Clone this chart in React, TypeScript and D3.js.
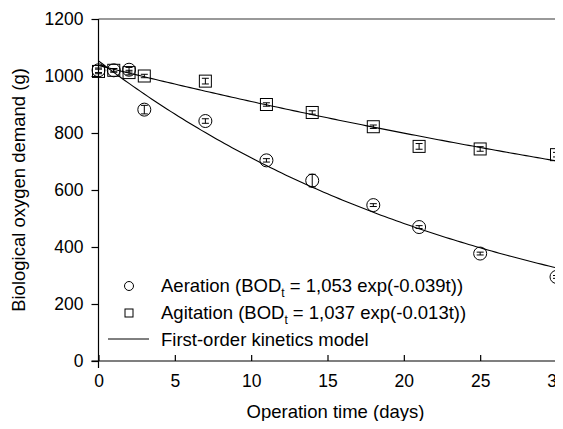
import React, { useEffect, useRef } from "react";
import * as d3 from "d3";

const days = [0, 1, 2, 3, 7, 11, 14, 18, 21, 25, 30];
const aeration = [1020, 1020, 1022, 882, 842, 704, 633, 547, 470, 377, 295];
const aerationErr = [8, 6, 8, 15, 8, 6, 22, 5, 5, 5, 5];
const agitation = [1016, 1020, 1012, 1000, 982, 900, 872, 822, 753, 744, 724];
const agitationErr = [8, 6, 8, 6, 10, 6, 6, 6, 10, 8, 8];
// fitted first-order model parameters (from legend)
const aerationModel = { a: 1053, k: 0.039 };
const agitationModel = { a: 1037, k: 0.013 };
const xTicks = [0, 5, 10, 15, 20, 25, 30];
const yTicks = [0, 200, 400, 600, 800, 1000, 1200];

const W = 563;
const H = 429;
const FONT = "Liberation Sans, Arial, sans-serif";

const App = () => {
  const ref = useRef<SVGSVGElement>(null);

  useEffect(() => {
    const svg = d3.select(ref.current);
    svg.selectAll("*").remove();

    const x = d3.scaleLinear().domain([0, 30]).range([98.5, 556.5]);
    const y = d3.scaleLinear().domain([0, 1200]).range([361, 19]);

    // top frame line
    svg.append("line")
      .attr("x1", x(0)).attr("x2", W).attr("y1", y(1200)).attr("y2", y(1200))
      .attr("stroke", "#777").attr("stroke-width", 1.5);

    const xAxis = svg.append("g")
      .attr("transform", `translate(0,${y(0)})`)
      .call(d3.axisBottom(x).tickValues(xTicks).tickFormat(d3.format("d")).tickSize(6).tickSizeOuter(0));
    xAxis.select(".domain").attr("d", `M${x(0) - 7},0H${W}`);
    xAxis.selectAll(".tick line").attr("y1", -6).attr("y2", 0);
    xAxis.selectAll("text").attr("y", 14).attr("dy", "0.71em");

    const yAxis = svg.append("g")
      .attr("transform", `translate(${x(0)},0)`)
      .call(d3.axisLeft(y).tickValues(yTicks).tickFormat(d3.format("d")).tickSize(7).tickSizeOuter(0));
    yAxis.select(".domain").attr("d", `M0,${y(1200)}V${y(0) + 7}`);
    yAxis.selectAll("text").attr("x", -15);

    svg.selectAll(".domain, .tick line").attr("stroke", "#000").attr("stroke-width", 1.2);
    svg.selectAll(".tick text")
      .attr("font-family", FONT).attr("font-size", 17.5).attr("fill", "#000");

    svg.append("text")
      .attr("x", (x(0) + x(30)) / 2 + 8).attr("y", 418)
      .attr("text-anchor", "middle").attr("font-family", FONT).attr("font-size", 18.5)
      .text("Operation time (days)");
    svg.append("text")
      .attr("transform", `translate(25,190) rotate(-90)`)
      .attr("text-anchor", "middle").attr("font-family", FONT).attr("font-size", 18.5)
      .text("Biological oxygen demand (g)");

    // model curves
    const tGrid = d3.range(0, 30.01, 0.25);
    const line = d3.line<number>().x(t => x(t));
    [aerationModel, agitationModel].forEach(m => {
      svg.append("path")
        .attr("d", line.y(t => y(m.a * Math.exp(-m.k * t)))(tGrid))
        .attr("fill", "none").attr("stroke", "#000").attr("stroke-width", 1.1);
    });

    const g = svg.append("g").attr("fill", "none").attr("stroke", "#000").attr("stroke-width", 1);

    const errBars = (vals: number[], errs: number[]) => {
      days.forEach((d, i) => {
        const cx = x(d);
        const y1 = y(vals[i] + errs[i]);
        const y2 = y(vals[i] - errs[i]);
        g.append("line").attr("x1", cx).attr("x2", cx).attr("y1", y1).attr("y2", y2);
        g.append("line").attr("x1", cx - 3.5).attr("x2", cx + 3.5).attr("y1", y1).attr("y2", y1);
        g.append("line").attr("x1", cx - 3.5).attr("x2", cx + 3.5).attr("y1", y2).attr("y2", y2);
      });
    };

    // agitation squares
    g.selectAll("rect.sq").data(agitation).enter().append("rect")
      .attr("class", "sq")
      .attr("x", (v, i) => x(days[i]) - 6).attr("y", v => y(v) - 6)
      .attr("width", 12).attr("height", 12);
    errBars(agitation, agitationErr);

    // aeration circles
    g.selectAll("circle.ci").data(aeration).enter().append("circle")
      .attr("class", "ci")
      .attr("cx", (v, i) => x(days[i])).attr("cy", v => y(v))
      .attr("r", 6.5);
    errBars(aeration, aerationErr);

    // legend
    const lg = svg.append("g").attr("font-family", FONT).attr("font-size", 18.5);
    lg.append("circle").attr("cx", 129).attr("cy", 286).attr("r", 4.5)
      .attr("fill", "none").attr("stroke", "#000");
    lg.append("rect").attr("x", 125).attr("y", 309).attr("width", 8).attr("height", 8)
      .attr("fill", "none").attr("stroke", "#000");
    lg.append("line").attr("x1", 108).attr("x2", 149).attr("y1", 339).attr("y2", 339)
      .attr("stroke", "#000");

    const entry = (yy: number, name: string, a: string, k: string) => {
      const t = lg.append("text").attr("x", 161).attr("y", yy);
      t.append("tspan").text(`${name} (BOD`);
      t.append("tspan").attr("font-size", 12).attr("dy", 5).text("t");
      t.append("tspan").attr("dy", -5).text(` = ${a} exp(-${k}t))`);
    };
    entry(292, "Aeration", "1,053", "0.039");
    entry(319, "Agitation", "1,037", "0.013");
    lg.append("text").attr("x", 161).attr("y", 346).text("First-order kinetics model");
  }, []);

  return <svg ref={ref} width={W} height={H} style={{ display: "block", margin: "-8px", background: "#fff" }} />;
};

export default App;
